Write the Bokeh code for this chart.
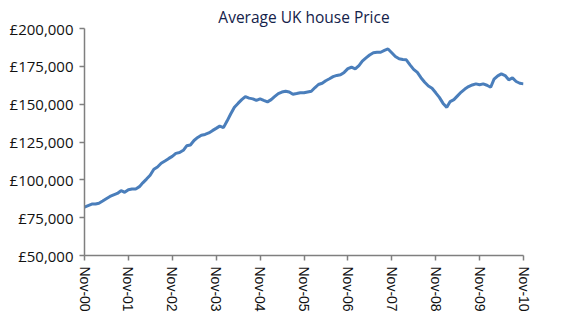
import pandas as pd
from bokeh.plotting import figure
from bokeh.models import Range1d, FixedTicker, DatetimeTickFormatter, CustomJSTickFormatter
from bokeh.embed import file_html
from bokeh.resources import INLINE

title_text = "Average UK house Price"
start_month = "2000-11-01"
prices = [
    82000, 83000, 84000, 84000, 84500, 86000, 87500, 89000, 90000, 91000,
    92800, 91800, 93500, 94000, 94000, 95500, 98000, 100500, 103000, 107000,
    108500, 111000, 112500, 114000, 115500, 117500, 118000, 119500, 122500, 123000,
    126000, 128000, 129500, 130000, 131000, 132500, 134000, 135500, 134500, 139000,
    143500, 148000, 150500, 153000, 155000, 154000, 153500, 152500, 153500, 152500,
    151500, 153000, 155000, 157000, 158000, 158500, 158000, 156500, 157000, 157500,
    157500, 158000, 158500, 161000, 163000, 163800, 165500, 166800, 168200, 169000,
    169400, 171000, 173500, 174400, 173300, 175500, 178500, 180600, 182500, 184000,
    184300, 184300, 185500, 186500, 184000, 181500, 180000, 179500, 179300, 176000,
    173000, 171000, 167500, 164500, 162000, 160500, 157500, 154500, 150500, 147900,
    151700, 153000, 155500, 158000, 160000, 161600, 162700, 163400, 162800, 163400,
    162500, 161200, 166500, 168700, 170000, 168900, 166100, 167400, 165000, 163800,
    163400,
]
y_ticks = [50000, 75000, 100000, 125000, 150000, 175000, 200000]

dates = pd.date_range(start_month, periods=len(prices), freq="MS")
tick_dates = [d for d in dates if d.month == 11]
tick_ms = [d.timestamp() * 1000 for d in tick_dates]

p = figure(width=578, height=323, output_backend="svg", toolbar_location=None,
           x_axis_type="datetime",
           x_range=Range1d(dates[0], dates[-1]),
           y_range=Range1d(50000, 200000),
           min_border_left=84, min_border_right=55, min_border_top=28, min_border_bottom=68)

p.line(dates, prices, line_color="#4A7EBB", line_width=3)

p.title.text = title_text
p.title.align = "center"
p.title.text_font = "Open Sans"
p.title.text_font_size = "15.5px"
p.title.text_font_style = "normal"
p.title.text_color = "#14224A"
p.title.offset = 0
p.title.standoff = 1

p.xgrid.visible = False
p.ygrid.visible = False
p.outline_line_color = None
p.background_fill_color = "white"
p.border_fill_color = "white"

xa = p.xaxis[0]
xa.ticker = FixedTicker(ticks=tick_ms)
xa.formatter = DatetimeTickFormatter(months="%b-%y", days="%b-%y", years="%b-%y")
xa.major_label_orientation = "vertical"
xa.major_label_text_font = "Liberation Sans"
xa.major_label_text_font_size = "14px"
xa.major_label_text_color = "#111111"
xa.axis_line_color = "#7F7F7F"
xa.axis_line_width = 1.5
xa.major_tick_line_color = "#7F7F7F"
xa.major_tick_line_width = 1.5
xa.major_tick_out = 5
xa.major_tick_in = 0
xa.minor_tick_line_color = None
xa.major_label_standoff = 6

ya = p.yaxis[0]
ya.ticker = FixedTicker(ticks=y_ticks)
ya.formatter = CustomJSTickFormatter(code="return '\u00a3' + tick.toLocaleString('en-GB');")
ya.major_label_text_font = "Open Sans"
ya.major_label_text_font_size = "15px"
ya.major_label_text_color = "#111111"
ya.axis_line_color = "#7F7F7F"
ya.axis_line_width = 1.5
ya.major_tick_line_color = "#7F7F7F"
ya.major_tick_line_width = 1.5
ya.major_tick_out = 5
ya.major_tick_in = 0
ya.minor_tick_line_color = None
ya.major_label_standoff = 6

open("out.html", "w").write(file_html(p, INLINE))
